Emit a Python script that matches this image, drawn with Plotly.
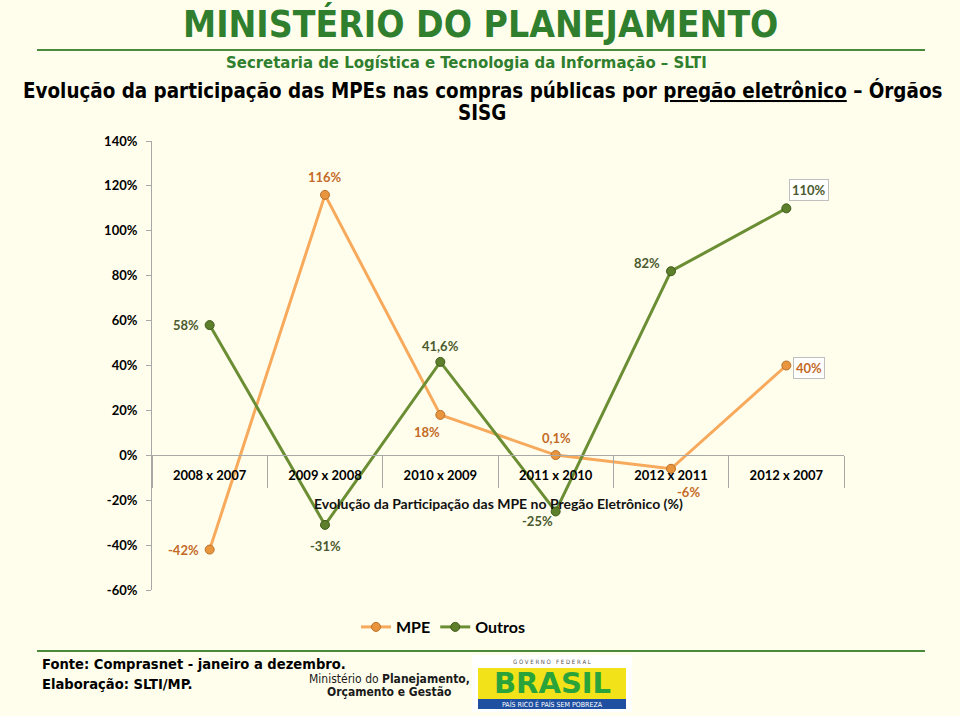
import plotly.graph_objects as go

# ---------------- data ----------------
categories = ["2008 x 2007", "2009 x 2008", "2010 x 2009", "2011 x 2010", "2012 x 2011", "2012 x 2007"]
mpe_values = [-42, 116, 18, 0.1, -6, 40]
outros_values = [58, -31, 41.6, -25, 82, 110]
y_ticks = [-60, -40, -20, 0, 20, 40, 60, 80, 100, 120, 140]

# ---------------- styles ----------------
W, H = 960, 716
L, R, T, B = 152, 116, 141, 126
BG = "#FFFEEC"
MPE_LINE = "#F7A95C"
MPE_MARK = "#E8953E"
MPE_TXT = "#C46A28"
OUT_LINE = "#6B8E34"
OUT_MARK = "#5D7E2B"
OUT_TXT = "#4B5A2E"
AXIS = "#A8A8A8"
GREEN_HDR = "#2F7F2F"
CHART_FONT = "Lato, Open Sans, sans-serif"
HDR_FONT = "Liberation Sans Narrow, DejaVu Sans Condensed, Arial Narrow, sans-serif"
BODY_FONT = "DejaVu Sans Condensed, DejaVu Sans, sans-serif"


def px(x):
    return (x - L) / (W - L - R)


def py(y):
    return (H - B - y) / (H - T - B)


def fmt(v):
    return f"{v:g}".replace(".", ",") + "%"


# label offsets (xshift, yshift) in px, and whether boxed
mpe_offsets = [(-26, 0), (0, 18), (-13, -17), (1, 17), (17, -23), (23, -2)]
out_offsets = [(-24, 0), (0, -21), (0, 16), (-18, -10), (-24, 8), (23, 18)]
mpe_boxed = [False, False, False, False, False, True]
out_boxed = [False, False, False, False, False, True]

fig = go.Figure()
fig.add_trace(go.Scatter(
    x=categories, y=mpe_values, name="MPE", mode="lines+markers",
    line=dict(color=MPE_LINE, width=3),
    marker=dict(size=9, color=MPE_MARK, line=dict(color="#B8702A", width=1)),
    cliponaxis=False,
))
fig.add_trace(go.Scatter(
    x=categories, y=outros_values, name="Outros", mode="lines+markers",
    line=dict(color=OUT_LINE, width=3),
    marker=dict(size=9, color=OUT_MARK, line=dict(color="#3E5A1A", width=1)),
    cliponaxis=False,
))
# helper (invisible) trace so the label axis is drawn
fig.add_trace(go.Scatter(
    x=categories, y=mpe_values, xaxis="x2", mode="none", showlegend=False,
    hoverinfo="skip",
))

annotations = []
for vals, offs, boxed, col in [(mpe_values, mpe_offsets, mpe_boxed, MPE_TXT),
                               (outros_values, out_offsets, out_boxed, OUT_TXT)]:
    for c, v, (dx, dy), bx in zip(categories, vals, offs, boxed):
        a = dict(x=c, y=v, xref="x", yref="y", text=fmt(v), showarrow=False,
                 xanchor="center", yanchor="middle",
                 xshift=dx, yshift=dy,
                 font=dict(family=CHART_FONT, size=13, color=col, weight="bold"))
        if bx:
            a.update(bgcolor="#FFFFFF", bordercolor="#BFBFBF", borderwidth=1, borderpad=2)
        annotations.append(a)


def note(x, y, text, font, xanchor="center"):
    annotations.append(dict(x=px(x), y=py(y), xref="paper", yref="paper", showarrow=False,
                            xanchor=xanchor, yanchor="middle", text=text, font=font))


# chart inner title
note(498, 503, "Evolução da Participação das MPE no Pregão Eletrônico (%)",
     dict(family=CHART_FONT, size=14, color="#111111", weight="bold"))

# header
note(480, 24, "MINISTÉRIO DO PLANEJAMENTO",
     dict(family=HDR_FONT, size=37, color=GREEN_HDR, weight="bold"))
note(466, 62, "Secretaria de Logística e Tecnologia da Informação – SLTI",
     dict(family=HDR_FONT, size=16.6, color=GREEN_HDR, weight="bold"))
note(482, 90, "Evolução da participação das MPEs nas compras públicas por "
              "<span style='text-decoration:underline'>pregão eletrônico</span> – Órgãos",
     dict(family=BODY_FONT, size=20.4, color="#000000", weight="bold"))
note(482, 113, "SISG", dict(family=BODY_FONT, size=20.4, color="#000000", weight="bold"))

# footer
note(40, 663, "Fonte: Comprasnet - janeiro a dezembro.",
     dict(family=BODY_FONT, size=14.6, color="#000000", weight="bold"), xanchor="left")
note(40, 683, "Elaboração: SLTI/MP.",
     dict(family=BODY_FONT, size=14.6, color="#000000", weight="bold"), xanchor="left")
note(389, 679, "Ministério do <b>Planejamento,</b>",
     dict(family=HDR_FONT, size=12, color="#1A1A1A"))
note(389, 692, "<b>Orçamento e Gestão</b>",
     dict(family=HDR_FONT, size=12, color="#1A1A1A"))
# Brasil logo (approximation)
note(552, 661, "G O V E R N O &nbsp; F E D E R A L",
     dict(family=BODY_FONT, size=6, color="#555555"))
note(552, 683, "BRASIL",
     dict(family="DejaVu Sans, sans-serif", size=29, color="#2AA43A", weight="bold"))
note(552, 704, "PAÍS RICO É PAÍS SEM POBREZA",
     dict(family=BODY_FONT, size=7, color="#FFFFFF"))

shapes = [
    dict(type="line", xref="paper", yref="paper", x0=px(37), x1=px(925), y0=py(50), y1=py(50),
         line=dict(color="#4A8A3A", width=2)),
    dict(type="line", xref="paper", yref="paper", x0=px(37), x1=px(925), y0=py(651), y1=py(651),
         line=dict(color="#4A8A3A", width=2)),
    dict(type="rect", xref="paper", yref="paper", x0=px(472), x1=px(632), y0=py(712), y1=py(655),
         fillcolor="#FFFFFF", line=dict(width=0), layer="below"),
    dict(type="rect", xref="paper", yref="paper", x0=px(478), x1=px(626), y0=py(699), y1=py(668),
         fillcolor="#F2E21A", line=dict(width=0), layer="below"),
    dict(type="rect", xref="paper", yref="paper", x0=px(478), x1=px(626), y0=py(709), y1=py(699),
         fillcolor="#1F4FA0", line=dict(width=0), layer="below"),
]

fig.update_layout(
    width=W, height=H,
    margin=dict(l=L, r=R, t=T, b=B),
    paper_bgcolor=BG, plot_bgcolor=BG,
    showlegend=True,
    legend=dict(orientation="h", x=px(443), y=py(627), xanchor="center", yanchor="middle",
                font=dict(family=CHART_FONT, size=16, color="#000000", weight="bold"),
                bgcolor="rgba(0,0,0,0)", itemwidth=30, tracegroupgap=0),
    annotations=annotations,
    shapes=shapes,
    xaxis=dict(type="category", categoryorder="array", categoryarray=categories,
               range=[-0.5, len(categories) - 0.5],
               anchor="free", position=60 / 200,
               showline=True, linecolor=AXIS, linewidth=1,
               ticks="outside", tickson="boundaries", ticklen=32, tickcolor=AXIS,
               showticklabels=False, showgrid=False, zeroline=False, fixedrange=True),
    xaxis2=dict(type="category", categoryorder="array", categoryarray=categories,
                overlaying="x", anchor="free", position=60 / 200, side="bottom",
                range=[-0.5, len(categories) - 0.5],
                ticks="outside", ticklen=8, tickcolor="rgba(0,0,0,0)",
                showline=False, showgrid=False, zeroline=False,
                tickfont=dict(family=CHART_FONT, size=13, color="#000000", weight="bold")),
    yaxis=dict(range=[-60, 140], tickmode="array", tickvals=y_ticks,
               ticktext=[f"{v}%" for v in y_ticks],
               showline=True, linecolor=AXIS, linewidth=1,
               ticks="outside", ticklen=5, tickcolor=AXIS,
               showgrid=False, zeroline=False, ticklabelstandoff=6,
               tickfont=dict(family=CHART_FONT, size=13, color="#000000", weight="bold")),
)

fig.write_html(
    "out.html",
    config={"displayModeBar": False},
    post_script="document.body.style.margin='0px';document.body.style.overflow='hidden';"
                "document.body.style.background='" + BG + "';",
)
